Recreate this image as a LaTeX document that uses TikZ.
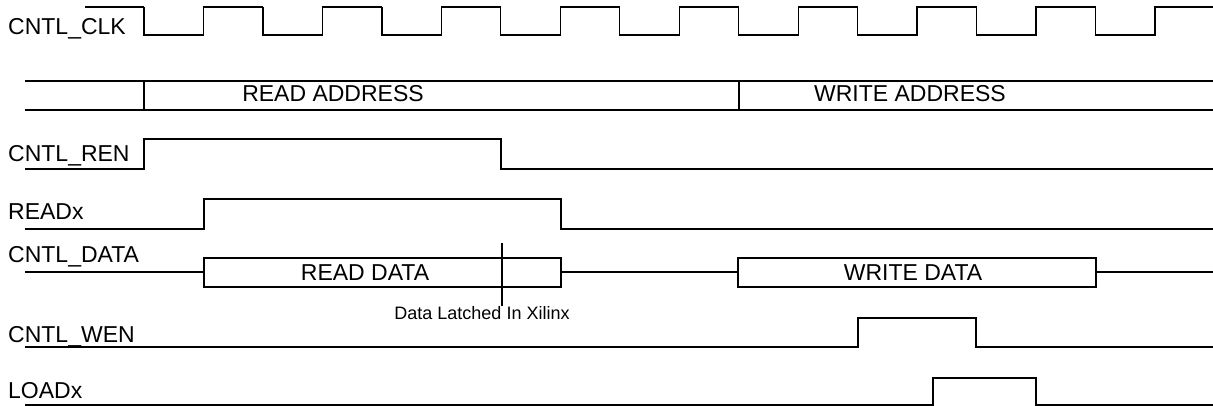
\documentclass[tikz,border=0pt]{standalone}
\usepackage{fontspec}
\setmainfont{Liberation Sans}
\begin{document}
\begin{tikzpicture}[
    x=1pt, y=-1pt,
    wave/.style={line width=1.3pt, line join=miter},
    siglabel/.style={anchor=base west, inner sep=0pt, font=\fontsize{23}{23}\selectfont},
    buslabel/.style={anchor=base, inner sep=0pt, font=\fontsize{23}{23}\selectfont},
    note/.style={anchor=base, inner sep=0pt, font=\fontsize{18}{18}\selectfont},
    ]
    \useasboundingbox (0,0) rectangle (1213,406);
    \def\hp{59.47}

    % Row 1: clock
    \node[siglabel] (clk) at (8,35) {CNTL\_CLK};
    \draw[wave] (85,7) -- (144,7);
    \foreach \k in {0,...,8}
      \draw[wave] ({144+2*\k*\hp},7) |- ({144+(2*\k+1)*\hp},35) |- ({144+(2*\k+2)*\hp},7);

    % Row 2: address bus
    \draw[wave] (25,81) -- (1213,81);
    \draw[wave] (25,110) -- (1213,110);
    \draw[wave] (144,81) -- (144,110);
    \draw[wave] (739,81) -- (739,110);
    \node[buslabel] (raddr) at (333,102) {READ ADDRESS};
    \node[buslabel] (waddr) at (910,102) {WRITE ADDRESS};

    % Row 3: read enable
    \node[siglabel] (ren) at (8,162) {CNTL\_REN};
    \draw[wave] (25,169) -| (144,139) -| (501,169) -- (1213,169);

    % Row 4: READx
    \node[siglabel] (readx) at (8,220) {READx};
    \draw[wave] (25,229) -| (204,199) -| (561,229) -- (1213,229);

    % Row 5: data bus
    \node[siglabel] (data) at (8,262) {CNTL\_DATA};
    \draw[wave] (25,272) -- (204,272);
    \draw[wave] (204,258) rectangle (561,287);
    \draw[wave] (561,272) -- (738,272);
    \draw[wave] (738,258) rectangle (1096,287);
    \draw[wave] (1096,272) -- (1213,272);
    \node[buslabel] (rdata) at (365,280) {READ DATA};
    \node[buslabel] (wdata) at (913,280) {WRITE DATA};
    \node[note] (latch) at (482,319) {Data Latched In Xilinx};
    \draw[line width=1.3pt] (502,243) -- (latch.north -| 502,0);

    % Row 6: write enable
    \node[siglabel] (wen) at (8,342) {CNTL\_WEN};
    \draw[wave] (25,347) -| (858,318) -| (976,347) -- (1213,347);

    % Row 7: LOADx
    \node[siglabel] (loadx) at (8,398) {LOADx};
    \draw[wave] (25,405) -| (933,378) -| (1036,405) -- (1213,405);
  \end{tikzpicture}
\end{document}
